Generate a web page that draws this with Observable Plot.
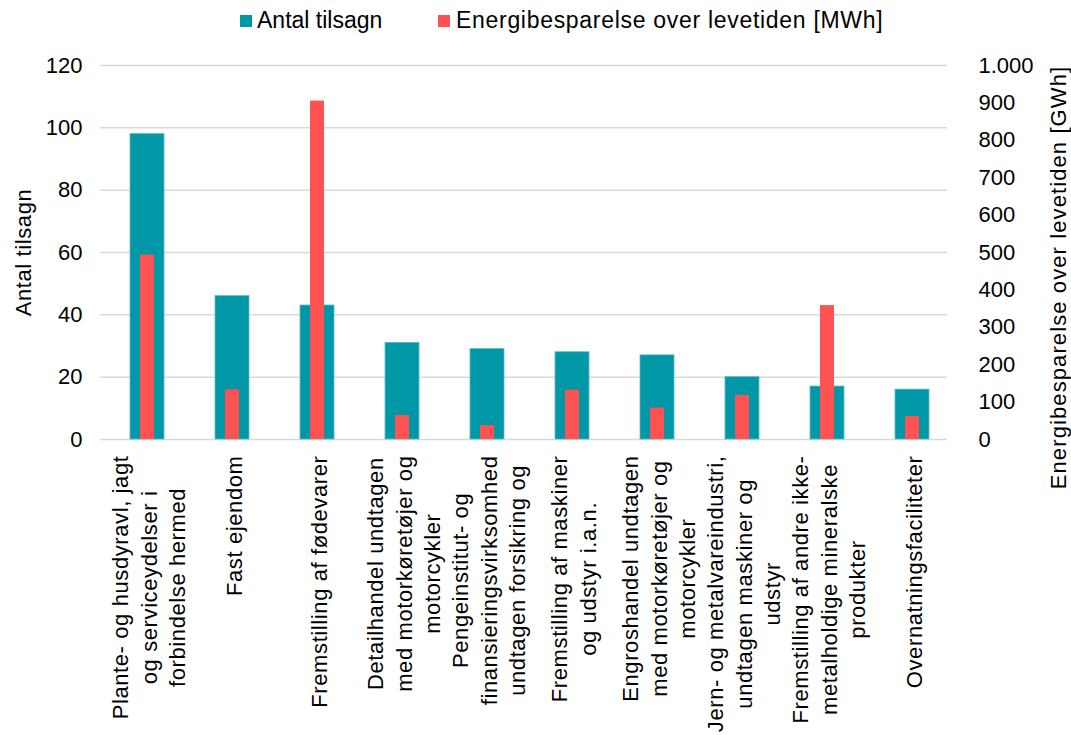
<!DOCTYPE html>
<html><head><meta charset="utf-8">
<script src="https://cdn.jsdelivr.net/npm/d3@7"></script>
<script src="https://cdn.jsdelivr.net/npm/@observablehq/plot@0.6"></script>
<style>
body{margin:0;background:#fff;font-family:"Liberation Sans",Arial,sans-serif;}
#legend{position:relative;height:40px;width:1071px;font-size:23px;color:#000;}
.sw{position:absolute;width:12px;height:12px;top:15px;}
.lt{position:absolute;top:7px;line-height:26px;white-space:nowrap;}
</style></head><body>
<div id="legend">
  <div class="sw" style="left:240px;background:#0097a7"></div><div class="lt" style="left:257px">Antal tilsagn</div>
  <div class="sw" style="left:438px;background:#ff5252"></div><div class="lt" style="left:456px;letter-spacing:0.7px">Energibesparelse over levetiden [MWh]</div>
</div>
<div id="chart"></div>
<script>
const categories = [
  "Plante- og husdyravl, jagt\nog serviceydelser i\nforbindelse hermed",
  "Fast ejendom",
  "Fremstilling af fødevarer",
  "Detailhandel undtagen\nmed motorkøretøjer og\nmotorcykler",
  "Pengeinstitut- og\nfinansieringsvirksomhed\nundtagen forsikring og",
  "Fremstilling af maskiner\nog udstyr i.a.n.",
  "Engroshandel undtagen\nmed motorkøretøjer og\nmotorcykler",
  "Jern- og metalvareindustri,\nundtagen maskiner og\nudstyr",
  "Fremstilling af andre ikke-\nmetalholdige mineralske\nprodukter",
  "Overnatningsfaciliteter"
];
const antal = [98, 46, 43, 31, 29, 28, 27, 20, 17, 16];
const gwh = [493, 133, 905, 64, 37, 132, 84, 118, 358, 61];
const leftTicks = [0, 20, 40, 60, 80, 100, 120];
const rightTicks = [0, 100, 200, 300, 400, 500, 600, 700, 800, 900, 1000];
const leftTitle = "Antal tilsagn";
const rightTitle = "Energibesparelse over levetiden [GWh]";

const data = categories.map((c, i) => ({cat: c, antal: antal[i], gwh: gwh[i]}));
const K = 120 / 1000;
const fmt = d3.formatLocale({decimal: ",", thousands: ".", grouping: [3], currency: ["", " kr."]}).format(",");

const plot = Plot.plot({
  width: 1071, height: 695,
  marginLeft: 100, marginRight: 124, marginTop: 25, marginBottom: 296,
  style: {fontFamily: "Liberation Sans, Arial, sans-serif", fontSize: "22px", color: "#000", background: "#fff"},
  x: {domain: categories, range: [103.5, 954.6], paddingInner: 0.6, paddingOuter: 0.3, axis: null},
  y: {domain: [0, 120], axis: null},
  marks: [
    Plot.ruleY(leftTicks, {stroke: "#d9d9d9", strokeWidth: 1.5}),
    Plot.barY(data, {x: "cat", y: "antal", fill: "#0097a7", stroke: "#5cbcc6", strokeWidth: 0.8}),
    Plot.barY(data, {x: "cat", y: d => d.gwh * K, fill: "#ff5252", insetLeft: 10, insetRight: 10}),
    Plot.axisY(leftTicks, {anchor: "left", tickSize: 0, tickPadding: 18, label: null}),
    Plot.axisY(rightTicks.map(v => v * K), {anchor: "right", tickSize: 0, tickPadding: 31, label: null,
      tickFormat: d => fmt(Math.round(d / K))}),
    Plot.text(data, {x: "cat", text: "cat", frameAnchor: "bottom", dy: 16, rotate: -90,
      textAnchor: "end", lineAnchor: "middle", lineHeight: 1.3, className: "catlab"}),
    Plot.text([leftTitle], {text: d => d, frameAnchor: "left", dx: -77, rotate: -90, textAnchor: "middle", className: "ltitle"}),
    Plot.text([rightTitle], {text: d => d, frameAnchor: "right", dx: 111, dy: 25, rotate: -90, textAnchor: "middle", className: "rtitle"})
  ]
});
document.getElementById("chart").appendChild(plot);
const setLS = (sel, v) => plot.querySelectorAll(sel).forEach(g => g.setAttribute("letter-spacing", v));
setLS("g.catlab", "0.6px");
setLS("g.ltitle", "0.6px");
setLS("g.rtitle", "1.1px");
plot.querySelectorAll('g.catlab text').forEach(t => {
  const sp = t.querySelectorAll("tspan");
  if (sp.length < 2) return;
  let L = 0;
  sp.forEach(s => { L = Math.max(L, s.getComputedTextLength()); });
  t.setAttribute("text-anchor", "middle");
  sp.forEach(s => s.setAttribute("x", -L / 2));
});
</script>
</body></html>
